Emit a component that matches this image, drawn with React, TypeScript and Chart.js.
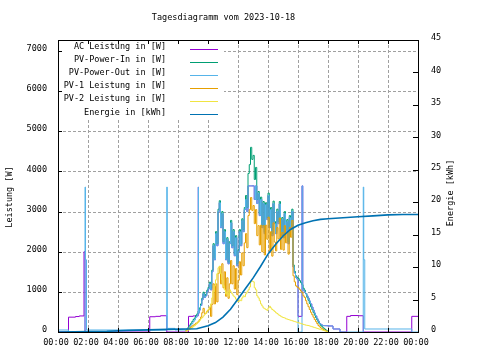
import React, { useEffect, useRef } from "react";
import { Chart, registerables } from "chart.js";

Chart.register(...registerables);

// ---------- texts ----------
const TITLE = "Tagesdiagramm vom 2023-10-18";
const Y_TITLE = "Leistung [W]";
const Y2_TITLE = "Energie [kWh]";
const legendLabels = [
  "AC Leistung in [W]",
  "PV-Power-In in [W]",
  "PV-Power-Out in [W]",
  "PV-1 Leistung in [W]",
  "PV-2 Leistung in [W]",
  "Energie in [kWh]",
];
const seriesColors = ["#9400d3", "#009e73", "#56b4e9", "#e69f00", "#f0e442", "#0072b2"];

// ---------- axes ----------
const xTickHours = [0, 2, 4, 6, 8, 10, 12, 14, 16, 18, 20, 22, 24];
const xTickLabels = ["00:00", "02:00", "04:00", "06:00", "08:00", "10:00", "12:00", "14:00", "16:00", "18:00", "20:00", "22:00", "00:00"];
const yTicks = [0, 1000, 2000, 3000, 4000, 5000, 6000, 7000];
const y2Ticks = [0, 5, 10, 15, 20, 25, 30, 35, 40, 45];
const Y_MAX = 7274;
const Y2_MAX = 45;

// ---------- data ----------
// daytime 5-minute grid: 08:30 ... 18:00 (one row = half an hour)
const dayStart = "08:30";
const dayStepMinutes = 5;

const pvInValues = [
  50, 80, 120, 170, 210, 260,
  310, 350, 410, 450, 520, 600,
  700, 840, 990, 900, 940, 1040,
  1110, 1240, 1090, 1540, 2200, 1850,
  2500, 2200, 3060, 3270, 2650, 3000,
  2250, 2550, 1840, 2350, 1740, 2250,
  2780, 2150, 2550, 1940, 2400, 1700,
  2050, 2550, 2200, 2820, 2550, 3100,
  3400, 3100, 3950, 4170, 4600, 4300,
  4400, 3800, 4100, 3300, 3500, 2950,
  3360, 2650, 3250, 2500, 3220, 2850,
  3460, 2650, 3100, 2450, 3260, 2750,
  2500, 3060, 2750, 3250, 2450, 2850,
  2400, 3000, 2550, 2800, 2250, 2900,
  2650, 3060, 1670, 1510, 1400, 1360,
  1330, 1280, 1230, 1180, 1090, 1040,
  950, 865, 790, 710, 630, 560,
  490, 420, 360, 300, 240, 200,
  160, 130, 100, 75, 50, 25,
  0,
];
const pv1Values = [
  30, 50, 70, 100, 120, 150,
  170, 190, 220, 230, 270, 310,
  370, 480, 590, 460, 470, 520,
  550, 620, 390, 690, 1200, 700,
  1200, 750, 1460, 1630, 1200, 1700,
  1100, 1500, 890, 1350, 840, 1200,
  1780, 1200, 1650, 1070, 1580, 930,
  1290, 1750, 1420, 1970, 1650, 2220,
  2450, 2100, 2900, 3050, 3350, 3030,
  3150, 2700, 3050, 2400, 2650, 2170,
  2660, 2000, 2650, 1920, 2660, 2310,
  2860, 2010, 2500, 1890, 2720, 2240,
  2020, 2600, 2320, 2840, 2060, 2480,
  2040, 2650, 2220, 2480, 1940, 2600,
  2360, 2780, 1400, 1250, 1150, 1120,
  1100, 1060, 1020, 980, 900, 860,
  780, 700, 630, 560, 490, 430,
  370, 310, 260, 210, 160, 130,
  100, 80, 60, 45, 30, 15,
  0,
];
const pv2Values = [
  20, 30, 50, 70, 90, 110,
  140, 160, 190, 220, 250, 290,
  330, 360, 400, 440, 470, 520,
  560, 620, 700, 850, 1000, 1150,
  1300, 1450, 1600, 1640, 1450, 1300,
  1150, 1050, 950, 1000, 900, 1050,
  1000, 950, 900, 870, 820, 770,
  760, 800, 780, 850, 900, 880,
  950, 1000, 1050, 1120, 1250, 1270,
  1250, 1100, 1050, 900, 850, 780,
  700, 650, 600, 580, 560, 540,
  600, 640, 600, 560, 540, 510,
  480, 460, 430, 410, 390, 370,
  360, 350, 330, 320, 310, 300,
  290, 280, 270, 260, 250, 240,
  230, 220, 210, 200, 190, 180,
  170, 165, 160, 150, 140, 130,
  120, 110, 100, 90, 80, 70,
  60, 50, 40, 30, 20, 10,
  0,
];
const pvOutDayValues = [
  40, 60, 90, 130, 170, 210,
  260, 300, 360, 400, 470, 550,
  660, 800, 950, 860, 900, 1000,
  1070, 1200, 1050, 1500, 2150, 1800,
  2450, 2150, 3000, 3220, 2600, 2950,
  2200, 2500, 1800, 2300, 1700, 2200,
  2720, 2100, 2500, 1900, 2350, 1650,
  2000, 2500, 2150, 2770, 2500, 3050,
  3300, 3000, 3640, 3640, 3640, 3640,
  3640, 3300, 3640, 3200, 3450, 2900,
  3300, 2600, 3200, 2450, 3170, 2800,
  3400, 2600, 3050, 2400, 3200, 2700,
  2450, 3000, 2700, 3190, 2400, 2800,
  2350, 2950, 2500, 2750, 2200, 2850,
  2600, 3000, 1620, 1470, 1360, 1320,
  0, 0, 0, 0, 1040, 1000,
  960, 900, 840, 770, 700, 620,
  540, 470, 400, 330, 270, 210,
  190, 170, 160, 158, 157, 155,
  150,
];

// PV-Power-Out outside the daytime grid, plus short spikes
const pvOutExtraTimes = [
  "00:00", "00:42", "01:48", "01:50", "01:54", "07:15", "07:17", "07:48", "09:21", "09:22",
  "16:16", "16:19", "18:20", "18:48", "20:21", "20:23", "20:27", "23:35", "24:00",
];
const pvOutExtraValues = [
  50, 0, 3610, 1800, 50, 3610, 90, 50, 3610, 470,
  3640, 1060, 75, 0, 3610, 1800, 75, 0, 0,
];

// AC power: own values at night / standby, equal to PV-Power-Out while producing
const acOwnTimes = [
  "00:00", "00:42", "01:10", "01:25", "01:44", "01:48", "06:07", "06:30", "06:50", "07:15",
  "08:42", "09:00", "09:21", "09:22", "16:00", "16:16", "16:19", "18:20", "18:48", "19:15",
  "19:30", "20:00", "20:21", "23:35", "24:00",
];
const acOwnValues = [
  0, 370, 385, 400, 2000, 0, 380, 390, 405, 0,
  390, 400, 3610, 470, 390, 3640, 1060, 75, 0, 390,
  410, 405, 0, 390, 390,
];
const acFollowsOut = [
  ["09:25", "15:55"],
  ["16:20", "18:00"],
];

const energyTimes = [
  "00:00", "03:15", "04:45", "07:20", "09:15", "09:30", "10:00", "10:30", "11:00", "11:30",
  "12:00", "12:30", "13:00", "13:30", "14:00", "14:30", "15:00", "15:30", "16:00", "16:30",
  "17:00", "17:30", "18:00", "19:00", "20:00", "21:00", "22:00", "23:00", "24:00",
];
const energyValues = [
  0, 0.1, 0.25, 0.4, 0.5, 0.65, 0.95, 1.45, 2.3, 3.5,
  5.1, 6.7, 8.3, 10.1, 12.0, 13.5, 14.8, 15.8, 16.45, 16.85,
  17.15, 17.35, 17.45, 17.6, 17.75, 17.9, 18.05, 18.1, 18.1,
];

// ---------- helpers ----------
const toHours = (t: string) => {
  const [h, m] = t.split(":").map(Number);
  return h + m / 60;
};
type P = { x: number; y: number };
const pts = (times: number[], vals: number[]): P[] => vals.map((v, i) => ({ x: times[i], y: v }));
const byX = (a: P, b: P) => a.x - b.x;
const dayTimes = pvInValues.map((_, i) => toHours(dayStart) + (i * dayStepMinutes) / 60);

const pvOutPoints = (): P[] =>
  [...pts(dayTimes, pvOutDayValues), ...pts(pvOutExtraTimes.map(toHours), pvOutExtraValues)].sort(byX);

const acPoints = (): P[] => {
  const windows = acFollowsOut.map(([a, b]) => [toHours(a) - 1e-6, toHours(b) + 1e-6]);
  const day = pts(dayTimes, pvOutDayValues).filter((p) => windows.some(([a, b]) => p.x >= a && p.x <= b));
  return [...day, ...pts(acOwnTimes.map(toHours), acOwnValues)].sort(byX);
};

const FONT_FAMILY = "'DejaVu Sans Mono', monospace";
const FONT = `8.5px ${FONT_FAMILY}`;

const gnuplotPlugin = {
  id: "gnuplotLook",
  beforeDatasetsDraw(chart: any) {
    const { ctx, chartArea: a, scales } = chart;
    ctx.save();
    ctx.strokeStyle = "#a0a0a0";
    ctx.lineWidth = 1;
    ctx.setLineDash([3, 2]);
    ctx.beginPath();
    for (const h of xTickHours) {
      if (h === 0 || h === 24) continue;
      const x = Math.round(scales.x.getPixelForValue(h)) + 0.5;
      ctx.moveTo(x, a.top);
      ctx.lineTo(x, a.bottom);
    }
    for (const v of yTicks) {
      if (v === 0) continue;
      const y = Math.round(scales.y.getPixelForValue(v)) + 0.5;
      ctx.moveTo(a.left, y);
      ctx.lineTo(a.right, y);
    }
    ctx.stroke();
    ctx.setLineDash([]);
    // opaque key box
    ctx.fillStyle = "#ffffff";
    ctx.fillRect(a.left + 1, a.top + 1, 165, 77);
    ctx.restore();
  },
  afterDatasetsDraw(chart: any) {
    const { ctx, chartArea: a, scales } = chart;
    ctx.save();
    ctx.strokeStyle = "#000";
    ctx.lineWidth = 1;
    ctx.strokeRect(Math.round(a.left) + 0.5, Math.round(a.top) + 0.5, Math.round(a.right - a.left), Math.round(a.bottom - a.top));
    ctx.beginPath();
    const TL = 4;
    for (const v of yTicks) {
      const y = Math.round(scales.y.getPixelForValue(v)) + 0.5;
      ctx.moveTo(a.left, y);
      ctx.lineTo(a.left + TL, y);
    }
    for (const v of y2Ticks) {
      const y = Math.round(scales.y2.getPixelForValue(v)) + 0.5;
      ctx.moveTo(a.right, y);
      ctx.lineTo(a.right - TL - 1, y);
    }
    for (const h of xTickHours) {
      const x = Math.round(scales.x.getPixelForValue(h)) + 0.5;
      ctx.moveTo(x, a.bottom);
      ctx.lineTo(x, a.bottom - TL);
      ctx.moveTo(x, a.top);
      ctx.lineTo(x, a.top + TL);
    }
    ctx.stroke();

    // key
    ctx.font = FONT;
    ctx.fillStyle = "#000";
    ctx.textBaseline = "middle";
    ctx.textAlign = "right";
    legendLabels.forEach((label, i) => {
      const y = 47 + i * 13.06;
      ctx.fillText(label, 166, y);
      ctx.strokeStyle = seriesColors[i];
      ctx.lineWidth = 1;
      ctx.beginPath();
      ctx.moveTo(190, Math.round(y + 2) + 0.5);
      ctx.lineTo(218, Math.round(y + 2) + 0.5);
      ctx.stroke();
    });

    ctx.textAlign = "center";
    ctx.fillText(TITLE, 223.5, 18);

    ctx.save();
    ctx.translate(10, 197);
    ctx.rotate(-Math.PI / 2);
    ctx.fillText(Y_TITLE, 0, 0);
    ctx.restore();
    ctx.save();
    ctx.translate(451, 193);
    ctx.rotate(-Math.PI / 2);
    ctx.fillText(Y2_TITLE, 0, 0);
    ctx.restore();

    ctx.restore();
  },
};

export default function App() {
  const ref = useRef<HTMLCanvasElement | null>(null);

  useEffect(() => {
    if (!ref.current) return;
    const ds = (label: string, data: P[], color: string, order: number, extra: any = {}) => ({
      label,
      data,
      borderColor: color,
      backgroundColor: color,
      borderWidth: 1,
      pointRadius: 0,
      fill: false,
      stepped: "before",
      order,
      yAxisID: "y",
      ...extra,
    });
    const tickFont = { family: FONT_FAMILY, size: 8.5 };

    const chart = new Chart(ref.current, {
      type: "line",
      data: {
        datasets: [
          ds(legendLabels[0], acPoints(), seriesColors[0], 6),
          ds(legendLabels[1], pts(dayTimes, pvInValues), seriesColors[1], 5),
          ds(legendLabels[2], pvOutPoints(), seriesColors[2], 4),
          ds(legendLabels[3], pts(dayTimes, pv1Values), seriesColors[3], 3),
          ds(legendLabels[4], pts(dayTimes, pv2Values), seriesColors[4], 2),
          ds(legendLabels[5], pts(energyTimes.map(toHours), energyValues), seriesColors[5], 1, {
            yAxisID: "y2",
            stepped: false,
            borderWidth: 1.6,
            tension: 0,
          }),
        ] as any,
      },
      options: {
        responsive: false,
        devicePixelRatio: 1,
        animation: false,
        events: [],
        layout: { padding: { top: 40, left: 0, right: 0, bottom: 0 } },
        plugins: {
          legend: { display: false },
          tooltip: { enabled: false },
          title: { display: false },
        },
        scales: {
          x: {
            type: "linear",
            min: 0,
            max: 24,
            grid: { display: false, drawTicks: false },
            border: { display: false },
            afterBuildTicks: (s: any) => {
              s.ticks = xTickHours.map((v) => ({ value: v }));
            },
            afterFit: (s: any) => {
              s.height = 28;
            },
            ticks: {
              autoSkip: false,
              maxRotation: 0,
              padding: 6,
              labelOffset: -2,
              color: "#000",
              font: tickFont,
              callback: (_v: any, i: number) => xTickLabels[i],
            },
          },
          y: {
            type: "linear",
            position: "left",
            min: 0,
            max: Y_MAX,
            grid: { display: false, drawTicks: false },
            border: { display: false },
            afterBuildTicks: (s: any) => {
              s.ticks = yTicks.map((v) => ({ value: v }));
            },
            afterFit: (s: any) => {
              s.width = 58;
            },
            ticks: {
              padding: 11,
              labelOffset: -2,
              color: "#000",
              font: tickFont,
              callback: (v: any) => String(v),
            },
          },
          y2: {
            type: "linear",
            position: "right",
            min: 0,
            max: Y2_MAX,
            grid: { display: false, drawTicks: false },
            border: { display: false },
            afterBuildTicks: (s: any) => {
              s.ticks = y2Ticks.map((v) => ({ value: v }));
            },
            afterFit: (s: any) => {
              s.width = 62;
            },
            ticks: {
              padding: 13,
              labelOffset: -2,
              color: "#000",
              font: tickFont,
              callback: (v: any) => String(v),
            },
          },
        },
      } as any,
      plugins: [gnuplotPlugin as any],
    });
    return () => chart.destroy();
  }, []);

  return (
    <div style={{ position: "fixed", left: 0, top: 0, width: 480, height: 360, background: "#fff" }}>
      <canvas ref={ref} width={480} height={360} style={{ display: "block" }} />
    </div>
  );
}
